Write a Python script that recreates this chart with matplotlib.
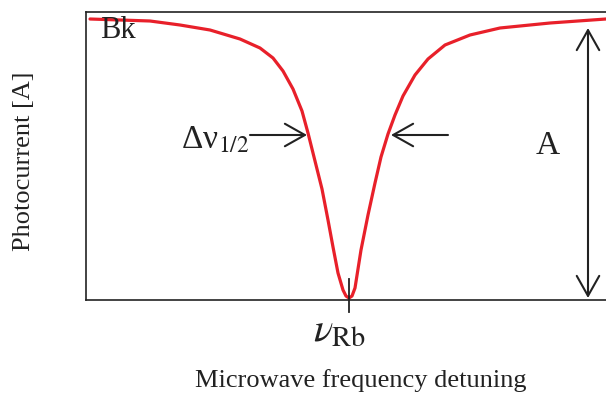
import numpy as np
import matplotlib.pyplot as plt

plt.rcParams['font.family'] = ['Liberation Serif', 'DejaVu Serif']
plt.rcParams['mathtext.fontset'] = 'stix'

# detuning (arb. units, 0 = resonance) and photocurrent
detuning = np.array([-259, -199, -169, -139, -109, -89, -76, -66, -56, -47,
                     -41, -34, -27, -21, -16, -11, -6, -3, 0, 3, 6, 12, 19,
                     26, 32, 39, 46, 54, 66, 79, 96, 121, 151, 201, 257])
photocurrent = np.array([281, 279, 275, 270, 261, 252, 242, 229, 211, 189,
                         167, 139, 111, 80, 53, 27, 10, 4, 2, 4, 12, 50, 85,
                         117, 143, 166, 185, 204, 225, 241, 255, 265, 272,
                         277, 281])

fig = plt.figure(figsize=(6.06, 3.94), dpi=100)
ax = fig.add_axes([86 / 606, 94 / 394, 526 / 606, 288 / 394])

ax.plot(detuning, photocurrent, color='#e8202a', lw=2.3,
        solid_joinstyle='round', solid_capstyle='round')
ax.set_xlim(-263, 263)
ax.set_ylim(0, 288)

for s in ax.spines.values():
    s.set_linewidth(1.2)
    s.set_color('#222222')
ax.set_xticks([])
ax.set_yticks([])

# resonance tick
ax.plot([0, 0], [-12, 21], color='#222222', lw=1.3, clip_on=False)
ax.text(-9, -14, r'$\nu_{\mathrm{Rb}}$', fontsize=29, ha='center', va='top',
        color='#222222')

ax.text(-249, 270, 'Bk', fontsize=22, ha='left', va='center', color='#222222')

# half width arrows
arrow = dict(arrowstyle='->,head_length=0.8,head_width=0.45', color='#222222',
             lw=1.5, mutation_scale=18, shrinkA=0, shrinkB=0)
ax.annotate('', xy=(-42, 165), xytext=(-99, 165), arrowprops=arrow)
ax.annotate('', xy=(42, 165), xytext=(99, 165), arrowprops=arrow)
ax.text(-100, 160, 'Δν$_{1/2}$', fontsize=24, ha='right',
        va='center', color='#222222')

# amplitude arrow
arrow2 = dict(arrowstyle='<->,head_length=0.8,head_width=0.45', color='#222222',
              lw=1.5, mutation_scale=18, shrinkA=0, shrinkB=0)
ax.annotate('', xy=(239, 2), xytext=(239, 272), arrowprops=arrow2,
            annotation_clip=False)
ax.text(199, 154, 'A', fontsize=24, ha='center', va='center', color='#222222')

fig.text(0.04, 1 - 161 / 394, 'Photocurrent [A]', rotation=90, fontsize=19,
         ha='center', va='center', color='#222222')
fig.text(361 / 606, 1 - 381 / 394, 'Microwave frequency detuning', fontsize=19,
         ha='center', va='center', color='#222222')

fig.savefig('out.png', dpi=100)
